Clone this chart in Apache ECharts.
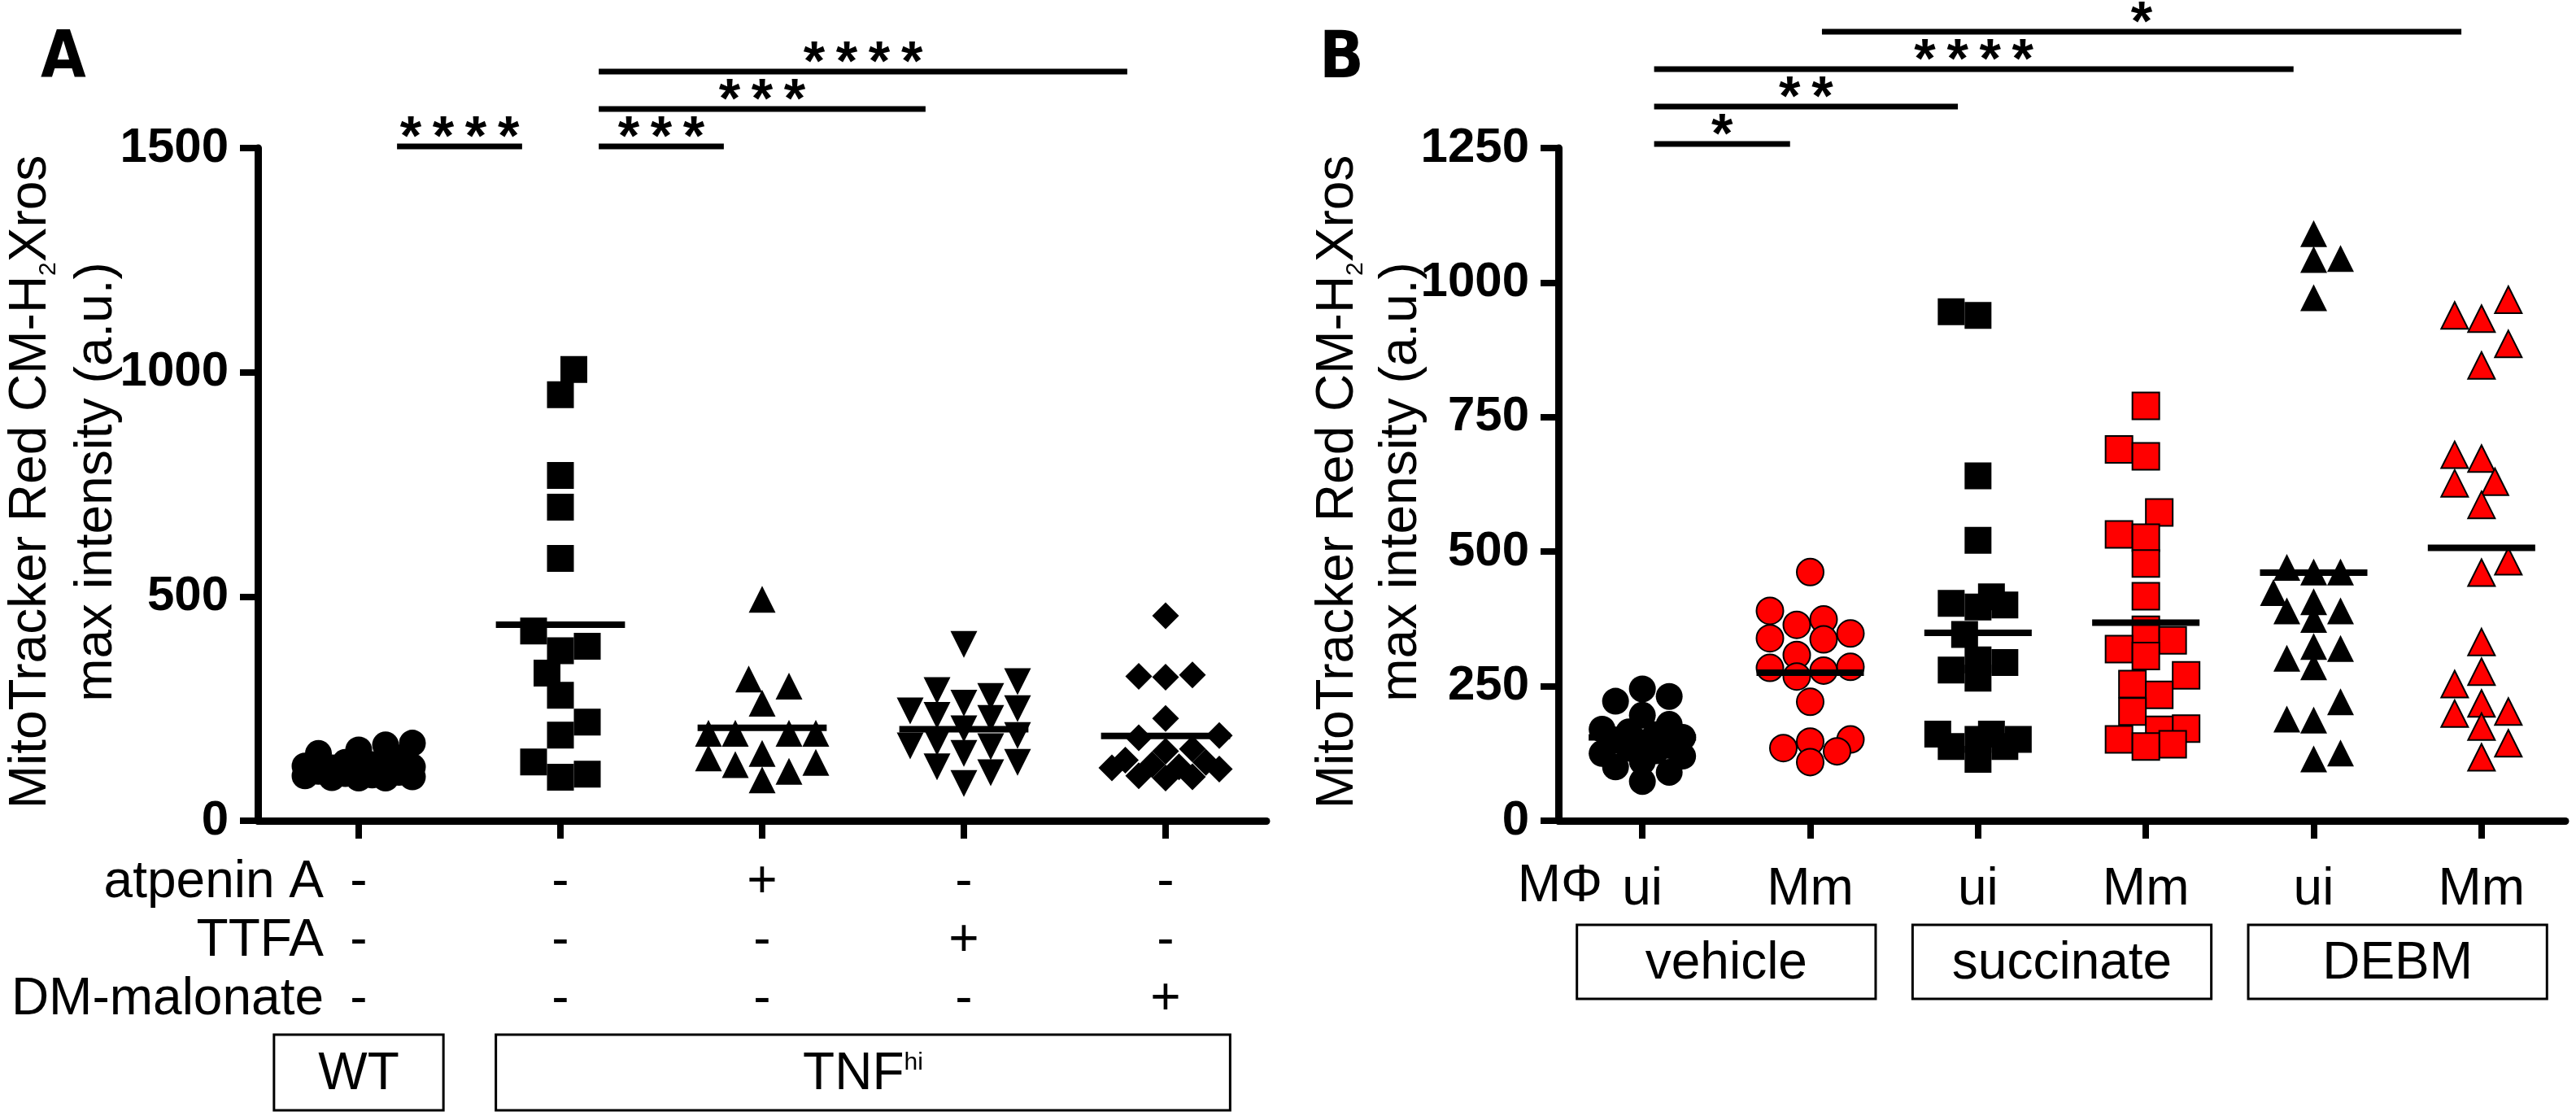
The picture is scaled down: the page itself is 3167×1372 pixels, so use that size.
<!DOCTYPE html>
<html>
<head>
<meta charset="utf-8">
<script src="https://cdn.jsdelivr.net/npm/echarts@6/dist/echarts.min.js"></script>
<style>
  html, body { margin: 0; padding: 0; background: #fff; }
  #chart { width: 3167px; height: 1372px; }
</style>
</head>
<body>
<div id="chart"></div>
<script>
// ---- panel A data ----
const catsA = ['WT', 'TNFhi', 'TNFhi + atpenin A', 'TNFhi + TTFA', 'TNFhi + DM-malonate'];
const rowNamesA = ['atpenin A', 'TTFA', 'DM-malonate'];
const atpeninRow = ['-', '-', '+', '-', '-'];
const ttfaRow = ['-', '-', '-', '+', '-'];
const dmRow = ['-', '-', '-', '-', '+'];
const wtVals = [173, 169, 158, 150, 140, 130, 125, 122, 120, 118, 115, 112, 110, 108, 105, 102, 100, 98, 96, 95, 95];
const tnfVals = [1006, 950, 770, 699, 585, 423, 389, 379, 329, 280, 220, 191, 131, 104, 97];
const atpeninVals = [494, 316, 300, 262, 195, 195, 195, 195, 150, 140, 130, 125, 110, 91];
const ttfaVals = [393, 310, 290, 277, 262, 250, 245, 235, 228, 205, 190, 175, 167, 165, 150, 130, 120, 107, 83];
const dmVals = [457, 325, 322, 320, 228, 190, 185, 160, 155, 135, 130, 125, 120, 118, 115, 100, 98, 95];
const meansA = [120, 437, 207, 204, 189];
const yMaxA = 1500, yStepA = 500;
// [from, to, label, level]
const sigA = [[0, 1, '****', 0], [1, 2, '***', 0], [1, 3, '***', 1], [1, 4, '****', 2]];
// [name, first, last]
const groupsA = [['WT', 0, 0], ['TNF', 1, 4]];

// ---- panel B data ----
const catsB = ['ui', 'Mm', 'ui', 'Mm', 'ui', 'Mm'];
const vehUi = [245, 231, 222, 196, 179, 170, 165, 160, 155, 150, 145, 140, 135, 130, 125, 120, 110, 100, 90, 73];
const vehMm = [462, 390, 374, 364, 348, 339, 337, 308, 286, 284, 279, 268, 221, 151, 147, 135, 129, 109];
const sucUi = [946, 939, 641, 521, 416, 404, 401, 397, 346, 299, 294, 280, 265, 161, 161, 151, 151, 138, 138, 114];
const sucMm = [771, 690, 677, 573, 532, 526, 478, 417, 355, 335, 319, 306, 270, 254, 234, 203, 171, 169, 151, 142, 138];
const debUi = [1091, 1045, 1043, 972, 471, 462, 462, 424, 407, 390, 390, 374, 324, 320, 302, 286, 221, 189, 187, 126, 115];
const debMm = [968, 939, 933, 886, 846, 680, 673, 630, 627, 587, 482, 461, 332, 277, 254, 218, 203, 199, 175, 144, 118];
const meansB = [155, 275, 349, 368, 461, 507];
const yMaxB = 1250, yStepB = 250;
const sigB = [[0, 1, '*', 0], [0, 2, '**', 1], [0, 4, '****', 2], [1, 5, '*', 3]];
const groupsB = [['vehicle', 0, 1], ['succinate', 2, 3], ['DEBM', 4, 5]];

// ---- look ----
const FONT = '"Liberation Sans", Arial, Helvetica, sans-serif';
const FONT_NARROW = '"Liberation Sans Narrow", "Arial Narrow", "DejaVu Sans Condensed", sans-serif';
const RED = '#ff0000';
const DOWN_TRI = 'path://M0,0L10,0L5,10Z';
const MARK = 33;

const panels = [
  {
    grid: {left: 317, top: 182, width: 1240, height: 827},
    cats: catsA, max: yMaxA, step: yStepA, means: meansA, sig: sigA, groups: groupsA,
    vals: [wtVals, tnfVals, atpeninVals, ttfaVals, dmVals],
    symbols: ['circle', 'rect', 'triangle', DOWN_TRI, 'diamond'],
    colors: ['#000', '#000', '#000', '#000', '#000'],
    labelMargin: 40, spread: 72, sigBase: 180, sigIn: [0.19, 0.19],
    boxTop: 1272, boxH: 93, boxPad: [0.42, 0.32],
    letter: ['A', 50], titleX: [38, 119]
  },
  {
    grid: {left: 1916, top: 182, width: 1238, height: 827},
    cats: catsB, max: yMaxB, step: yStepB, means: meansB, sig: sigB, groups: groupsB,
    vals: [vehUi, vehMm, sucUi, sucMm, debUi, debMm],
    symbols: ['circle', 'circle', 'rect', 'rect', 'triangle', 'triangle'],
    colors: ['#000', RED, '#000', RED, '#000', RED],
    labelMargin: 49, spread: 55, sigBase: 177, sigIn: [0.07, 0.12],
    boxTop: 1137, boxH: 91, boxPad: [0.39, 0.39, 0.39],
    letter: ['B', 1622], titleX: [1645, 1723]
  }
];

const axisLine = {show: true, onZero: false, lineStyle: {color: '#000', width: 9}};
const axisTick = {show: true, length: 22, lineStyle: {color: '#000', width: 8}};

const chart = echarts.init(document.getElementById('chart'));

const base = {
  animation: false,
  backgroundColor: '#fff',
  grid: panels.map(p => Object.assign({outerBoundsMode: 'none', containLabel: false}, p.grid)),
  xAxis: [],
  yAxis: []
};
panels.forEach((p, g) => {
  base.xAxis.push({
    type: 'category', gridIndex: g, data: p.cats,
    axisLine, axisTick: Object.assign({alignWithLabel: true}, axisTick),
    axisLabel: {
      interval: 0, color: '#000', fontFamily: FONT, fontSize: 64,
      lineHeight: 72, margin: p.labelMargin,
      formatter: g === 0
        ? (v, i) => [atpeninRow[i], ttfaRow[i], dmRow[i]].join('\n')
        : v => v
    }
  });
  base.yAxis.push({
    type: 'value', gridIndex: g, min: 0, max: p.max, interval: p.step,
    axisLine, axisTick, splitLine: {show: false},
    axisLabel: {color: '#000', fontFamily: FONT, fontWeight: 'bold', fontSize: 60, margin: 36,
      formatter: v => String(v)}
  });
});
// hidden value axes used to place the jittered points
panels.forEach((p, g) => {
  base.xAxis.push({type: 'value', gridIndex: g, min: -0.5, max: p.cats.length - 0.5, show: false});
});
chart.setOption(base);

// simple beeswarm, offsets in pixels
function swarm(vals, pxPerUnit, size, maxHalf) {
  const order = vals.map((v, i) => i).sort((a, b) => vals[a] - vals[b]);
  const placed = [];
  const off = [];
  let flip = 1;
  const step = size * 0.5;
  for (const i of order) {
    const y = vals[i] * pxPerUnit;
    const cands = [0];
    for (let k = 1; k * step <= maxHalf; k++) cands.push(flip * k * step, -flip * k * step);
    let pick = null, bestC = 0, bestD = -1;
    for (const c of cands) {
      let d = Infinity;
      for (const q of placed) d = Math.min(d, Math.hypot(q[0] - c, q[1] - y));
      if (d >= size * 0.95) { pick = c; break; }
      if (d > bestD) { bestD = d; bestC = c; }
    }
    if (pick === null) pick = bestC;
    if (pick !== 0) flip = -Math.sign(pick);
    placed.push([pick, y]);
    off[i] = pick;
  }
  return off;
}

const series = [];
const graphic = [];
const txt = (x, y, text, extra, rot) => {
  const el = {
    type: 'text', x, y, z: 10,
    style: Object.assign({text, fill: '#000', fontFamily: FONT, fontSize: 64, align: 'center', verticalAlign: 'middle'}, extra)
  };
  if (rot) el.rotation = rot;
  graphic.push(el);
};

panels.forEach((p, g) => {
  const xi = panels.length + g; // hidden value x axis
  const px = v => chart.convertToPixel({xAxisIndex: xi}, v);
  const py = v => chart.convertToPixel({yAxisIndex: g}, v);
  const band = px(1) - px(0);
  const perUnit = (py(0) - py(p.max)) / p.max;

  p.vals.forEach((vals, i) => {
    const off = swarm(vals, perUnit, MARK, p.spread);
    const red = p.colors[i] === RED;
    series.push({
      type: 'scatter', xAxisIndex: xi, yAxisIndex: g,
      symbol: p.symbols[i], symbolSize: MARK,
      itemStyle: {color: p.colors[i], borderColor: '#000', borderWidth: red ? 2 : 0, opacity: 1},
      emphasis: {disabled: true},
      data: vals.map((v, k) => [i + off[k] / band, v]),
      z: 2
    });
  });

  // mean lines
  series.push({
    type: 'custom', xAxisIndex: xi, yAxisIndex: g, z: 5,
    data: p.means.map((m, i) => [i, m]),
    renderItem: (params, api) => {
      const a = api.coord([api.value(0) - 0.32, api.value(1)]);
      const b = api.coord([api.value(0) + 0.32, api.value(1)]);
      return {type: 'line', shape: {x1: a[0], y1: a[1], x2: b[0], y2: b[1]}, style: {stroke: '#000', lineWidth: 8}};
    }
  });

  // significance bars
  p.sig.forEach(([from, to, label, level]) => {
    const y = p.sigBase - 46 * level;
    const x1 = px(from + p.sigIn[0]);
    const x2 = px(to - p.sigIn[1]);
    graphic.push({type: 'line', z: 10, shape: {x1, y1: y, x2, y2: y}, style: {stroke: '#000', lineWidth: 7}});
    txt((x1 + x2) / 2, y - 9, label.split('').join('\u2009'), {fontWeight: 'bold', fontSize: 68});
  });

  // group boxes
  p.groups.forEach(([name, a, b], k) => {
    const x1 = px(a - p.boxPad[k]);
    const x2 = px(b + p.boxPad[k]);
    graphic.push({type: 'rect', z: 10, shape: {x: x1, y: p.boxTop, width: x2 - x1, height: p.boxH},
      style: {fill: 'none', stroke: '#000', lineWidth: 3}});
    const cy = p.boxTop + p.boxH / 2 + 3;
    if (name === 'TNF') {
      txt((x1 + x2) / 2, cy, 'TNF{sup|hi}', {rich: {sup: {fontSize: 30, fontFamily: FONT, padding: [0, 0, 30, 0]}}});
    } else {
      txt((x1 + x2) / 2, cy, name);
    }
  });

  // panel letter
  txt(p.letter[1], 74, p.letter[0], {fontFamily: FONT_NARROW, fontWeight: 'bold', fontSize: 80, align: 'left'});

  // y titles
  const cy = (p.grid.top + p.grid.top + p.grid.height) / 2 - 3;
  txt(p.titleX[0], cy, 'MitoTracker Red CM-H{s|2}Xros',
    {rich: {s: {fontSize: 30, fontFamily: FONT, padding: [44, 0, 0, 0]}}}, Math.PI / 2);
  txt(p.titleX[1], cy, 'max intensity (a.u.)', {}, Math.PI / 2);
});

// row headers for panel A
const axisYA = panels[0].grid.top + panels[0].grid.height;
rowNamesA.forEach((name, r) => {
  txt(398, axisYA + panels[0].labelMargin + 36 + 72 * r, name, {align: 'right'});
});
// MΦ before the panel B labels
const axisYB = panels[1].grid.top + panels[1].grid.height;
txt(1970, axisYB + panels[1].labelMargin + 32, 'MΦ', {align: 'right'});

chart.setOption({series, graphic});
</script>
</body>
</html>
